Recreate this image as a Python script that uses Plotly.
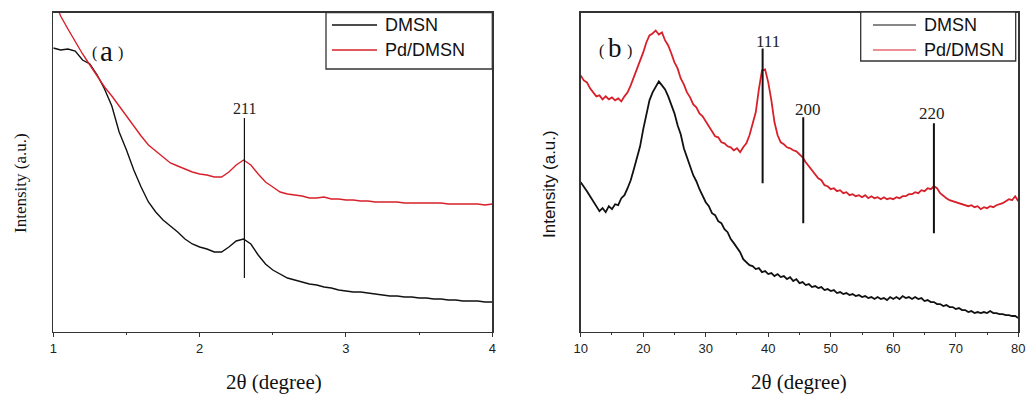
import plotly.graph_objects as go

W, H = 1026, 394

# ---------------- data ----------------
# Panel (a): low-angle XRD, 2theta 1..4 deg, step 0.05
two_theta_a_start, two_theta_a_step = 1.0, 0.05
dmsn_a = [284, 282, 283, 281, 272, 268, 257, 243, 226, 200,
          182, 162, 145, 130, 120, 112, 106, 100, 93, 88,
          85, 83, 80, 80, 85, 91, 93, 88, 77, 68,
          62, 58, 54, 52, 50, 48, 47, 45, 44, 42,
          41, 40, 40, 39, 38, 37, 36, 36, 35, 35,
          34, 34, 33, 33, 32, 32, 31, 31, 31, 30,
          30]
pd_dmsn_a = [334, 316, 303, 290, 278, 267, 256, 245, 236, 226,
             215, 206, 196, 187, 181, 175, 169, 166, 163, 160,
             158, 157, 155, 155, 160, 167, 172, 167, 158, 150,
             145, 140, 138, 137, 136, 134, 134, 135, 133, 133,
             132, 132, 131, 131, 130, 130, 130, 130, 129, 129,
             129, 129, 129, 129, 128, 128, 128, 128, 128, 127,
             128]
two_theta_a = [round(two_theta_a_start + two_theta_a_step * i, 2) for i in range(len(dmsn_a))]

# Panel (b): wide-angle XRD, 2theta 10..80 deg, step 0.5
two_theta_b_start, two_theta_b_step = 10.0, 0.5
dmsn_b = [150, 146, 141, 136, 131, 127, 121, 124, 120, 126,   # 10-14.5
          123, 128, 127, 134, 137, 144, 152, 163, 174, 186,   # 15-19.5
          203, 219, 232, 240, 245, 251, 247, 243, 236, 228,   # 20-24.5
          219, 207, 198, 184, 174, 166, 157, 151, 143, 136,   # 25-29.5
          130, 126, 119, 117, 111, 109, 103, 100, 93, 89,     # 30-34.5
          84, 80, 73, 70, 67, 66, 63, 64, 60, 61,             # 35-39.5
          58, 59, 56, 58, 55, 56, 53, 55, 51, 53,             # 40-44.5
          49, 50, 47, 48, 45, 46, 44, 45, 42, 43,             # 45-49.5
          41, 42, 39, 40, 38, 39, 37, 38, 36, 37,             # 50-54.5
          35, 36, 34, 35, 33, 35, 33, 34, 32, 35,             # 55-59.5
          33, 35, 33, 36, 34, 35, 33, 35, 33, 34,             # 60-64.5
          31, 32, 30, 30, 28, 28, 26, 27, 25, 25,             # 65-69.5
          23, 24, 22, 22, 20, 21, 19, 20, 19, 20,             # 70-74.5
          19, 21, 19, 19, 18, 18, 17, 17, 16, 16,             # 75-79.5
          14]                                                 # 80
pd_dmsn_b = [257, 252, 250, 244, 240, 236, 237, 233, 236, 233,
             235, 232, 234, 231, 236, 240, 247, 255, 262, 272,
             280, 290, 297, 299, 302, 298, 300, 292, 287, 279,
             270, 264, 254, 248, 240, 235, 228, 225, 219, 216,
             211, 206, 202, 196, 195, 190, 189, 186, 185, 182,
             184, 180, 185, 189, 197, 208, 220, 243, 262, 263,
             250, 232, 210, 197, 190, 188, 185, 184, 182, 181,
             178, 175, 170, 166, 162, 158, 154, 152, 147, 146,
             143, 144, 141, 142, 139, 140, 137, 138, 136, 137,
             135, 137, 134, 136, 134, 135, 133, 135, 133, 134,
             133, 135, 134, 136, 136, 138, 138, 140, 139, 142,
             141, 144, 143, 146, 144, 139, 136, 134, 132, 131,
             130, 129, 128, 127, 126, 127, 125, 126, 123, 125,
             124, 126, 125, 127, 128, 129, 131, 133, 132, 136,
             131]
two_theta_b = [two_theta_b_start + two_theta_b_step * i for i in range(len(dmsn_b))]

series_names = ["DMSN", "Pd/DMSN"]
series_colors = ["#111111", "#d8202a"]

peak_a_labels = ["211"]
peak_a_pos = [2.306]
peak_b_labels = ["111", "200", "220"]
peak_b_pos = [39.1, 45.6, 66.5]

x_ticks_a = [1, 2, 3, 4]
x_ticks_b = [10, 20, 30, 40, 50, 60, 70, 80]


# ---------------- helpers (pixel -> paper) ----------------
def fx(p):
    return p / W


def fy(p):
    return 1 - p / H


fig = go.Figure()

fig.add_trace(go.Scatter(x=two_theta_a, y=dmsn_a, mode="lines", name=series_names[0],
                         line=dict(color=series_colors[0], width=1.4), xaxis="x", yaxis="y",
                         showlegend=False, hoverinfo="skip"))
fig.add_trace(go.Scatter(x=two_theta_a, y=pd_dmsn_a, mode="lines", name=series_names[1],
                         line=dict(color=series_colors[1], width=1.4), xaxis="x", yaxis="y",
                         showlegend=False, hoverinfo="skip"))
fig.add_trace(go.Scatter(x=two_theta_b, y=dmsn_b, mode="lines", name=series_names[0],
                         line=dict(color=series_colors[0], width=1.8), xaxis="x2", yaxis="y2",
                         showlegend=False, hoverinfo="skip"))
fig.add_trace(go.Scatter(x=two_theta_b, y=pd_dmsn_b, mode="lines", name=series_names[1],
                         line=dict(color=series_colors[1], width=1.8), xaxis="x2", yaxis="y2",
                         showlegend=False, hoverinfo="skip"))

axis_line = dict(showline=True, linecolor="#333333", linewidth=1.3, mirror=True,
                 showgrid=False, zeroline=False, automargin=False)
tick_font = dict(family="Arial, Liberation Sans, sans-serif", size=13, color="#222222")

ydom = [fy(332), fy(12.5)]

fig.update_layout(
    template="none",
    width=W, height=H,
    margin=dict(l=0, r=0, t=0, b=0, pad=0),
    paper_bgcolor="white", plot_bgcolor="white",
    showlegend=False,
    xaxis=dict(domain=[fx(53.3), fx(492.3)], range=[1, 4], anchor="y",
               tickvals=x_ticks_a, ticks="outside", ticklen=4, tickwidth=1, tickcolor="#333333",
               minor=dict(ticks="outside", ticklen=2, tickwidth=1, tickcolor="#333333",
                          dtick=0.5, tick0=1),
               tickfont=tick_font, **axis_line),
    yaxis=dict(domain=ydom, range=[0, 319.5], anchor="x", showticklabels=False, ticks="",
               **axis_line),
    xaxis2=dict(domain=[fx(580.7), fx(1018.3)], range=[10, 80], anchor="y2",
                tickvals=x_ticks_b, ticks="outside", ticklen=4, tickwidth=1, tickcolor="#333333",
                minor=dict(ticks="outside", ticklen=2, tickwidth=1, tickcolor="#333333",
                           dtick=5, tick0=10),
                tickfont=tick_font, **axis_line),
    yaxis2=dict(domain=ydom, range=[0, 320], anchor="x2", showticklabels=False, ticks="",
                **axis_line),
)

serif = "Times New Roman, Liberation Serif, serif"
sans = "Arial, Liberation Sans, sans-serif"
ink = "#111111"

annotations = []
shapes = []


def txt(x, y, text, family, size, xanchor="center", angle=0, ref=("paper", "paper"), color=ink):
    annotations.append(dict(x=x, y=y, xref=ref[0], yref=ref[1], text=text, showarrow=False,
                            textangle=angle, font=dict(family=family, size=size, color=color),
                            xanchor=xanchor, yanchor="middle"))


# axis titles
for cx in (274, 799):
    txt(fx(cx), fy(382), "2θ (degree)", serif, 21)
txt(fx(20), fy(183), "Intensity (a.u.)", serif, 17, angle=-90)
txt(fx(549), fy(184), "Intensity (a.u.)", sans, 17, angle=-90)

# panel letters: small parentheses, large letter
txt(fx(94), fy(53), "(", serif, 16)
txt(fx(106), fy(51), "a", serif, 29)
txt(fx(120), fy(53), ")", serif, 16)
txt(fx(601), fy(51), "(", serif, 16)
txt(fx(614.5), fy(48), "b", serif, 27)
txt(fx(629), fy(51), ")", serif, 16)

# peak markers panel (a)
for lab, pos in zip(peak_a_labels, peak_a_pos):
    shapes.append(dict(type="line", xref="x", yref="y", x0=pos, x1=pos,
                       y0=332 - 278, y1=332 - 118, line=dict(color=ink, width=1.2)))
    txt(pos, 332 - 108, lab, serif, 16, ref=("x", "y"), color="#222222")

# peak markers panel (b)
line_b_extent = {"111": (183, 48, 41), "200": (223, 117, 109), "220": (233, 123, 113)}
label_dx = {"111": 0.8, "200": 0.7, "220": -0.3}
for lab, pos in zip(peak_b_labels, peak_b_pos):
    ybot, ytop, ylab = line_b_extent[lab]
    shapes.append(dict(type="line", xref="x2", yref="y2", x0=pos, x1=pos,
                       y0=332 - ybot, y1=332 - ytop, line=dict(color=ink, width=2)))
    txt(pos + label_dx[lab], 332 - ylab, lab, serif, 17, ref=("x2", "y2"), color="#222222")

# legends (drawn boxes)
legend_boxes = [
    dict(x0=326, x1=492.3, y0=12.5, y1=69, lx0=332, lx1=377, tx=383),
    dict(x0=860.7, x1=1015.7, y0=12, y1=61, lx0=873, lx1=916, tx=922),
]
for i, lb in enumerate(legend_boxes):
    shapes.append(dict(type="rect", xref="paper", yref="paper",
                       x0=fx(lb["x0"]), x1=fx(lb["x1"]), y0=fy(lb["y1"]), y1=fy(lb["y0"]),
                       line=dict(color="#333333", width=1.3), fillcolor="white", layer="above"))
    for name, color, yy in zip(series_names, series_colors, (25, 50)):
        shapes.append(dict(type="line", xref="paper", yref="paper",
                           x0=fx(lb["lx0"]), x1=fx(lb["lx1"]), y0=fy(yy), y1=fy(yy),
                           line=dict(color=color, width=1.4 if i == 0 else 1.2), layer="above"))
        txt(fx(lb["tx"]), fy(yy), name, sans, 18, xanchor="left")

fig.update_layout(annotations=annotations, shapes=shapes)
fig.write_html(
    "out.html",
    config={"displayModeBar": False, "staticPlot": True},
    post_script="document.body.style.margin='0';document.body.style.overflow='hidden';"
                "document.documentElement.style.overflow='hidden';",
)
